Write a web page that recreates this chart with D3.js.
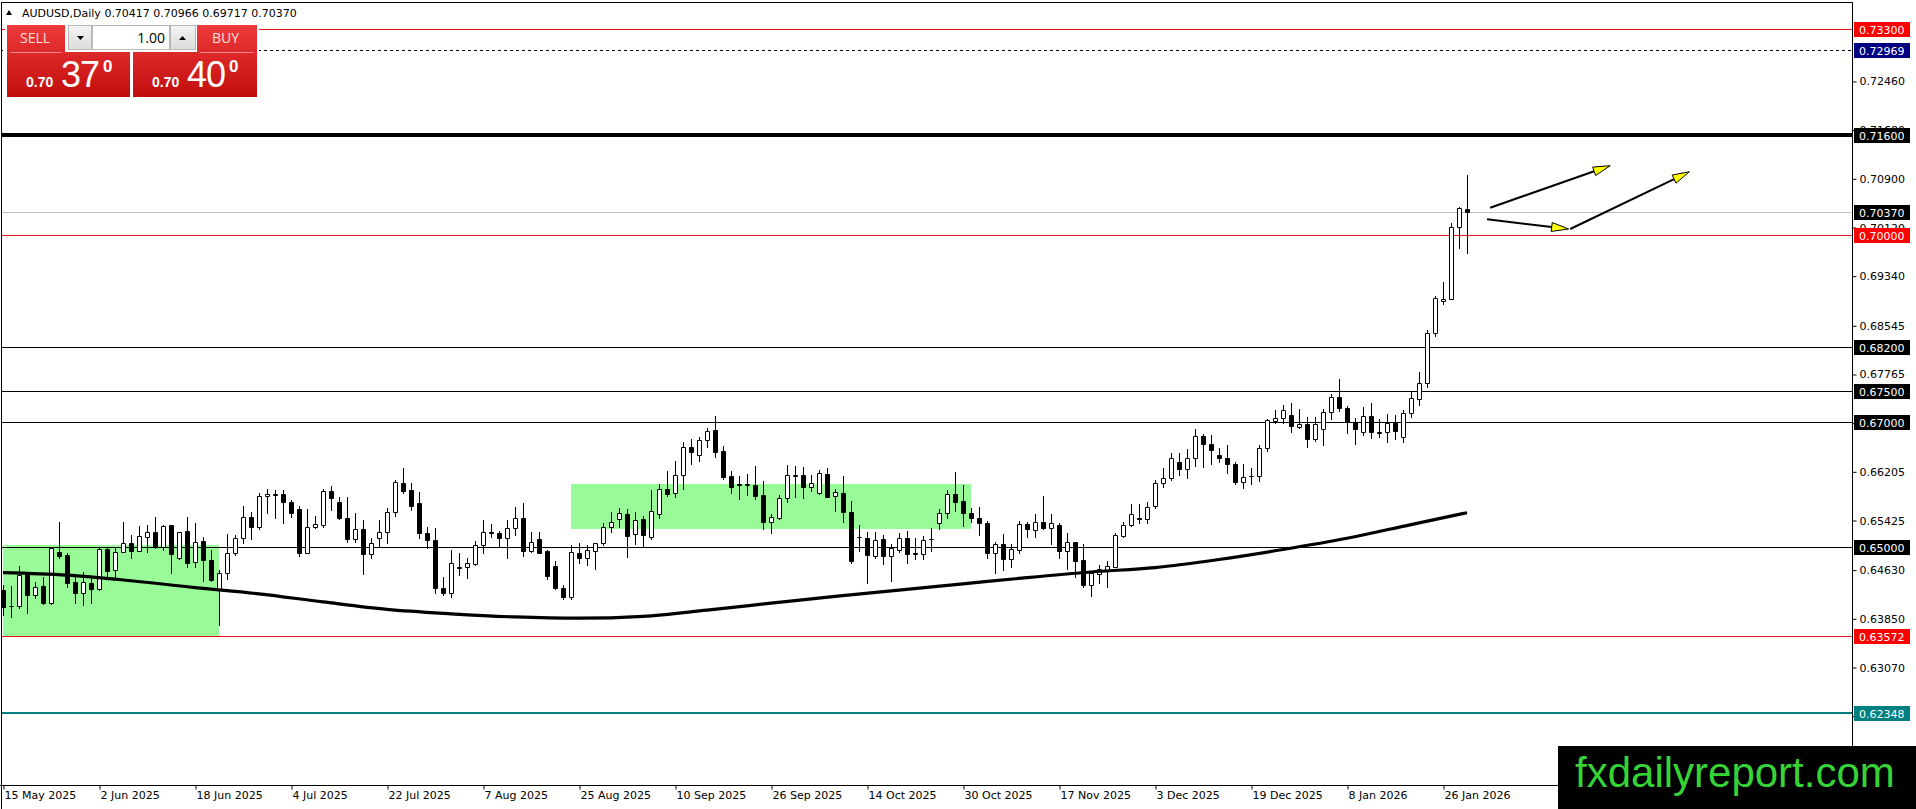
<!DOCTYPE html>
<html>
<head>
<meta charset="utf-8">
<script src="https://d3js.org/d3.v7.min.js"></script>
<style>
body { margin: 0; background: #fff; overflow: hidden; }
svg { display: block; font-family: "DejaVu Sans", sans-serif; }
</style>
</head>
<body>
<svg id="chart" width="1916" height="809"></svg>
<script>
// daily bars, one per trading day from 15 May 2025 (bar 0) to 29 Jan 2026 (bar 183)
var opens = [0.64311,0.64055,0.64055,0.64578,0.64231,0.64375,0.64108,0.64925,0.64872,0.64445,0.64258,0.64429,0.64322,0.64963,0.64632,0.64925,0.65059,0.64941,0.65166,0.65235,
0.65006,0.65353,0.64819,0.65257,0.64765,0.65096,0.64792,0.64311,0.64589,0.64899,0.65139,0.65486,0.65315,0.65817,0.65844,0.65844,0.65727,0.65604,0.64909,0.65315,
0.65353,0.65897,0.65721,0.65459,0.65134,0.65283,0.64883,0.65139,0.65246,0.65556,0.66020,0.65913,0.65700,0.65219,0.65112,0.64338,0.64258,0.64685,0.64674,0.64722,
0.65032,0.65246,0.65219,0.65139,0.65299,0.65459,0.64941,0.65123,0.64936,0.64701,0.64338,0.64204,0.64899,0.64819,0.64941,0.65059,0.65326,0.65444,0.65529,0.65203,
0.65444,0.65166,0.65529,0.65924,0.65860,0.66149,0.66597,0.66469,0.66715,0.66875,0.66539,0.66138,0.66004,0.65988,0.65994,0.65833,0.65401,0.65460,0.65780,0.66143,
0.66154,0.65967,0.65860,0.66165,0.65817,0.65860,0.65556,0.65166,0.65139,0.64861,0.65123,0.64856,0.64952,0.65139,0.64899,0.64888,0.65123,0.65380,0.65550,0.65849,
0.65737,0.65540,0.65460,0.65390,0.64899,0.65048,0.64803,0.64952,0.65369,0.65273,0.65406,0.65299,0.65353,0.64941,0.65075,0.64792,0.64391,0.64568,0.64632,0.64685,
0.65176,0.65353,0.65460,0.65444,0.65660,0.66020,0.66100,0.66367,0.66245,0.66421,0.66779,0.66650,0.66474,0.66421,0.66330,0.66047,0.66133,0.66143,0.66581,0.67024,
0.67062,0.67115,0.66928,0.66971,0.66725,0.66885,0.67158,0.67398,0.67222,0.66998,0.66848,0.67105,0.66843,0.66837,0.66981,0.66757,0.67142,0.67372,0.67622,0.68424,
0.68945,0.68971,0.70133,0.70417];
var highs = [0.64391,0.64375,0.64696,0.64605,0.64445,0.64525,0.65006,0.65406,0.64899,0.64525,0.64605,0.64535,0.64990,0.64979,0.64979,0.65395,0.65192,0.65342,0.65353,0.65486,
0.65350,0.65360,0.65246,0.65486,0.65390,0.65166,0.64952,0.64632,0.65208,0.65192,0.65657,0.65566,0.65860,0.65929,0.65913,0.65913,0.65753,0.65657,0.65604,0.65497,
0.65929,0.65978,0.65807,0.65796,0.65550,0.65433,0.65139,0.65433,0.65620,0.66074,0.66261,0.66020,0.65887,0.65326,0.65299,0.64525,0.64952,0.64909,0.64819,0.65102,
0.65433,0.65363,0.65257,0.65433,0.65646,0.65700,0.65235,0.65246,0.64952,0.64781,0.64391,0.65032,0.65059,0.65032,0.65070,0.65390,0.65566,0.65620,0.65604,0.65556,
0.65502,0.65914,0.66004,0.66218,0.66378,0.66677,0.66725,0.66768,0.66912,0.67099,0.66619,0.66218,0.66138,0.66170,0.66298,0.66063,0.65529,0.65833,0.66309,0.66298,
0.66277,0.66154,0.66234,0.66271,0.65924,0.66138,0.65743,0.65353,0.65246,0.65246,0.65193,0.65048,0.65230,0.65262,0.65139,0.65176,0.65299,0.65604,0.65914,0.66197,
0.65994,0.65620,0.65636,0.65422,0.65086,0.65203,0.65048,0.65417,0.65406,0.65529,0.65817,0.65529,0.65390,0.65230,0.65086,0.65048,0.64621,0.64712,0.64776,0.65230,
0.65406,0.65684,0.65689,0.65727,0.66074,0.66261,0.66501,0.66501,0.66565,0.66891,0.66811,0.66790,0.66581,0.66634,0.66367,0.66330,0.66261,0.66634,0.67051,0.67195,
0.67270,0.67302,0.67211,0.67088,0.67088,0.67211,0.67452,0.67692,0.67265,0.67062,0.67238,0.67302,0.67051,0.67126,0.67115,0.67195,0.67489,0.67809,0.68477,0.69022,
0.69239,0.70186,0.70443,0.70966];
var lows = [0.63911,0.63884,0.64020,0.63937,0.64178,0.64087,0.64090,0.64819,0.64365,0.64108,0.64071,0.64108,0.64310,0.64525,0.64525,0.64915,0.64819,0.64930,0.64915,0.64979,
0.64960,0.64578,0.64810,0.64685,0.64685,0.64461,0.64461,0.63750,0.64482,0.64872,0.65059,0.65123,0.65283,0.65550,0.65459,0.65390,0.65486,0.64861,0.64899,0.65300,
0.65315,0.65593,0.65443,0.65086,0.65086,0.64562,0.64829,0.65006,0.65059,0.65497,0.65860,0.65593,0.65139,0.64979,0.64258,0.64231,0.64204,0.64552,0.64509,0.64712,
0.64899,0.65166,0.65016,0.64829,0.65192,0.64861,0.64915,0.64900,0.64488,0.64330,0.64162,0.64162,0.64738,0.64712,0.64642,0.65032,0.65246,0.65326,0.64845,0.65048,
0.65022,0.65123,0.65470,0.65823,0.65807,0.65924,0.66325,0.66384,0.66608,0.66437,0.66095,0.65871,0.65764,0.65833,0.65764,0.65283,0.65219,0.65450,0.65727,0.65807,
0.65791,0.65903,0.65844,0.65796,0.65582,0.65406,0.64739,0.64941,0.64418,0.64819,0.64728,0.64461,0.64926,0.64749,0.64803,0.64803,0.64941,0.65289,0.65460,0.65582,
0.65342,0.65406,0.65193,0.64819,0.64589,0.64632,0.64685,0.64909,0.65166,0.65166,0.65283,0.65048,0.64819,0.64642,0.64525,0.64365,0.64215,0.64429,0.64365,0.64674,
0.65155,0.65342,0.65390,0.65390,0.65620,0.65967,0.66074,0.66154,0.66111,0.66298,0.66288,0.66330,0.66367,0.66191,0.66010,0.65940,0.66010,0.66063,0.66544,0.66982,
0.66982,0.66848,0.66901,0.66608,0.66699,0.66634,0.67051,0.67185,0.66832,0.66650,0.66795,0.66752,0.66757,0.66688,0.66725,0.66688,0.67089,0.67276,0.67558,0.68381,
0.68891,0.69038,0.69796,0.69717];
var closes = [0.64044,0.64050,0.64552,0.64231,0.64365,0.64108,0.64979,0.64861,0.64429,0.64268,0.64445,0.64322,0.64963,0.64621,0.64925,0.65059,0.64941,0.65176,0.65235,0.64995,
0.65342,0.64883,0.65235,0.64749,0.65086,0.64792,0.64471,0.64589,0.64899,0.65139,0.65476,0.65315,0.65817,0.65844,0.65828,0.65727,0.65540,0.64909,0.65315,0.65369,
0.65897,0.65780,0.65459,0.65134,0.65283,0.64883,0.65070,0.65246,0.65556,0.66036,0.65897,0.65662,0.65219,0.65112,0.64338,0.64258,0.64738,0.64669,0.64738,0.65032,
0.65246,0.65230,0.65139,0.65299,0.65459,0.64941,0.65075,0.64909,0.64541,0.64338,0.64204,0.64915,0.64819,0.64952,0.65059,0.65326,0.65406,0.65540,0.65176,0.65433,
0.65187,0.65582,0.65924,0.65849,0.66154,0.66597,0.66528,0.66715,0.66864,0.66528,0.66127,0.65956,0.65988,0.66004,0.65823,0.65406,0.65476,0.65780,0.66149,0.66154,
0.65967,0.66031,0.66181,0.65807,0.65876,0.65566,0.64776,0.65155,0.64872,0.65112,0.64856,0.64979,0.65139,0.64888,0.64888,0.65112,0.65133,0.65550,0.65849,0.65727,
0.65540,0.65460,0.65380,0.64899,0.65048,0.64803,0.64963,0.65369,0.65283,0.65406,0.65299,0.65390,0.64941,0.65086,0.64781,0.64391,0.64578,0.64642,0.64696,0.65193,
0.65353,0.65529,0.65444,0.65647,0.66031,0.66100,0.66421,0.66245,0.66421,0.66779,0.66645,0.66554,0.66421,0.66325,0.66047,0.66127,0.66143,0.66581,0.67035,0.67062,
0.67195,0.66944,0.66966,0.66736,0.66966,0.67158,0.67398,0.67222,0.66998,0.66885,0.67105,0.66837,0.66832,0.66992,0.66859,0.67142,0.67382,0.67622,0.68424,0.68985,
0.68982,0.70133,0.70427,0.70370];

// moving average at sample bars
var maBars   = [0, 8, 16, 24, 32, 40, 48, 56, 64, 72, 80, 88, 96, 104, 112, 120, 128, 136, 144, 152, 160, 168, 176, 183];
var maValues = [0.6459,0.6455,0.6446,0.6435,0.6425,0.6412,0.6400,0.6393,0.6388,0.6386,0.6389,0.6399,0.6410,0.6421,0.6431,0.6441,0.6451,0.6460,0.6467,0.6480,0.6496,0.6514,0.6536,0.6555];

var dateLabels = ["15 May 2025","2 Jun 2025","18 Jun 2025","4 Jul 2025","22 Jul 2025","7 Aug 2025","25 Aug 2025","10 Sep 2025",
  "26 Sep 2025","14 Oct 2025","30 Oct 2025","17 Nov 2025","3 Dec 2025","19 Dec 2025","8 Jan 2026","26 Jan 2026"];
var dateBars = [0,12,24,36,48,60,72,84,96,108,120,132,144,156,168,180];

var priceTicks = [0.72460,0.71680,0.70900,0.70120,0.69340,0.68545,0.67765,0.66985,0.66205,0.65425,0.64630,0.63850,0.63070,0.62290];

// horizontal levels and their kind
var levelPrices = [0.73300,0.72969,0.71600,0.70370,0.70000,0.68200,0.67500,0.67000,0.65000,0.63572,0.62348];
var levelKinds  = ["red","dash","thick","bid","red","plain","plain","plain","plain","red","teal"];

// green zones (bar from, bar to, top, bottom)
var zoneFrom   = [0, 71];
var zoneTo     = [27, 121];
var zoneTop    = [0.65030, 0.66004];
var zoneBottom = [0.63572, 0.65289];

// drawn arrows (bar, price)
var arrowFromBar = [185.9, 185.5, 195.9];
var arrowFromPrice = [0.70437, 0.70251, 0.70096];
var arrowToBar = [200.9, 195.7, 210.8];
var arrowToPrice = [0.71110, 0.70096, 0.71013];

var symbol = "AUDUSD,Daily";
var lotSize = "1.00";
var sellPrice = ["0.70", "37", "0"];
var buyPrice = ["0.70", "40", "0"];

var styles = {
  red:   {stroke: "#e8141a", width: 1, box: "#ff0000"},
  dash:  {stroke: "#000000", width: 1, box: "#000080", dash: "3,3"},
  thick: {stroke: "#000000", width: 4, box: "#000000"},
  bid:   {stroke: "#c0c0c0", width: 1, box: "#000000"},
  plain: {stroke: "#000000", width: 1, box: "#000000"},
  teal:  {stroke: "#008080", width: 2, box: "#008080"}
};

var W = 1916, H = 809;
var plotRight = 1852, plotBottom = 785, plotTop = 2;
var svg = d3.select("#chart");

var xs = d3.scaleLinear().domain([0, 100]).range([3, 803]);
var ys = d3.scaleLinear().domain([0.61187, 0.73733]).range([plotBottom, plotTop]);
function cy(p) { return Math.round(ys(p)) + 0.5; }

svg.append("rect").attr("width", W).attr("height", H).attr("fill", "#fff");

var plot = svg.append("g");
plot.append("clipPath").attr("id", "clip").append("rect")
  .attr("x", 2).attr("y", plotTop).attr("width", plotRight - 2).attr("height", plotBottom - plotTop);
var inner = plot.append("g").attr("clip-path", "url(#clip)");

// zones
inner.selectAll("rect.zone").data(zoneFrom).enter().append("rect")
  .attr("class", "zone")
  .attr("x", function(d) { return Math.round(xs(d)); })
  .attr("width", function(d, i) { return Math.round(xs(zoneTo[i])) - Math.round(xs(d)); })
  .attr("y", function(d, i) { return Math.round(ys(zoneTop[i])); })
  .attr("height", function(d, i) { return Math.round(ys(zoneBottom[i])) - Math.round(ys(zoneTop[i])); })
  .attr("fill", "#98fb98");

// levels
inner.selectAll("line.level").data(levelPrices).enter().append("line")
  .attr("class", "level")
  .attr("x1", 0).attr("x2", plotRight)
  .attr("y1", function(d, i) { var s = styles[levelKinds[i]]; return s.width % 2 ? cy(d) : Math.round(ys(d)); })
  .attr("y2", function(d, i) { var s = styles[levelKinds[i]]; return s.width % 2 ? cy(d) : Math.round(ys(d)); })
  .attr("stroke", function(d, i) { return styles[levelKinds[i]].stroke; })
  .attr("stroke-width", function(d, i) { return styles[levelKinds[i]].width; })
  .attr("stroke-dasharray", function(d, i) { return styles[levelKinds[i]].dash || null; })
  .attr("shape-rendering", "crispEdges");

// candles
var idx = d3.range(opens.length);
var candles = inner.selectAll("g.candle").data(idx).enter().append("g").attr("class", "candle");
candles.append("line")
  .attr("x1", function(i) { return Math.round(xs(i)) + 0.5; })
  .attr("x2", function(i) { return Math.round(xs(i)) + 0.5; })
  .attr("y1", function(i) { return Math.round(ys(highs[i])); })
  .attr("y2", function(i) { return Math.round(ys(lows[i])) + 1; })
  .attr("stroke", "#000").attr("stroke-width", 1);
candles.append("path")
  .attr("d", function(i) {
    var x0 = Math.round(xs(i)) - 2 + 0.5, x1 = x0 + 4;
    var y0 = cy(Math.max(opens[i], closes[i])), y1 = cy(Math.min(opens[i], closes[i]));
    return "M" + x0 + "," + y0 + "H" + x1 + "V" + y1 + "H" + x0 + "Z";
  })
  .attr("fill", function(i) { return closes[i] >= opens[i] ? "#fff" : "#000"; })
  .attr("stroke", "#000").attr("stroke-width", 1);

// moving average
inner.append("path")
  .datum(maBars)
  .attr("d", d3.line().curve(d3.curveMonotoneX)
    .x(function(d) { return xs(d); })
    .y(function(d, i) { return ys(maValues[i]); }))
  .attr("fill", "none").attr("stroke", "#000").attr("stroke-width", 3.2);

// arrows
var arrows = inner.selectAll("g.arrow").data(arrowFromBar).enter().append("g").attr("class", "arrow");
arrows.each(function(d, i) {
  var g = d3.select(this);
  var x1 = xs(d), y1 = ys(arrowFromPrice[i]), x2 = xs(arrowToBar[i]), y2 = ys(arrowToPrice[i]);
  var a = Math.atan2(y2 - y1, x2 - x1), len = 17, hw = 4.5;
  var bx = x2 - len * Math.cos(a), by = y2 - len * Math.sin(a);
  g.append("line").attr("x1", x1).attr("y1", y1).attr("x2", bx).attr("y2", by)
    .attr("stroke", "#000").attr("stroke-width", 2);
  var pts = [[x2, y2], [bx - hw * Math.sin(a), by + hw * Math.cos(a)], [bx + hw * Math.sin(a), by - hw * Math.cos(a)]];
  g.append("path").attr("d", "M" + pts.join("L") + "Z")
    .attr("fill", "#ffff00").attr("stroke", "#000").attr("stroke-width", 1);
});

// frame
svg.append("path")
  .attr("d", "M1.5," + H + "V" + (plotTop + 0.5) + "H" + (plotRight + 0.5) + "V" + H)
  .attr("fill", "none").attr("stroke", "#000").attr("stroke-width", 1).attr("shape-rendering", "crispEdges");
svg.append("line").attr("x1", 0).attr("x2", plotRight).attr("y1", plotBottom + 0.5).attr("y2", plotBottom + 0.5)
  .attr("stroke", "#000").attr("shape-rendering", "crispEdges");

// price axis
var yAxis = svg.append("g").attr("transform", "translate(" + (plotRight + 0.5) + ",0)")
  .call(d3.axisRight(ys).tickValues(priceTicks).tickFormat(d3.format(".5f")).tickSize(4).tickPadding(3));
yAxis.select(".domain").remove();
yAxis.selectAll("text").attr("font-family", "DejaVu Sans").attr("font-size", 11).attr("fill", "#000");
yAxis.selectAll("line").attr("stroke", "#000");

// level labels
var labels = svg.selectAll("g.lvl").data(levelPrices).enter().append("g").attr("class", "lvl")
  .attr("transform", function(d) { return "translate(" + (plotRight + 2) + "," + Math.round(ys(d)) + ")"; });
labels.append("rect").attr("x", 0).attr("y", -7).attr("width", 56).attr("height", 15)
  .attr("fill", function(d, i) { return styles[levelKinds[i]].box; });
labels.append("text").attr("x", 5).attr("y", 4.5)
  .attr("font-family", "DejaVu Sans").attr("font-size", 11).attr("fill", "#fff")
  .text(function(d) { return d3.format(".5f")(d); });

// time axis
var xAxis = svg.append("g").attr("transform", "translate(0," + (plotBottom + 0.5) + ")")
  .call(d3.axisBottom(xs).tickValues(dateBars).tickSize(4)
    .tickFormat(function(d, i) { return dateLabels[i]; }));
xAxis.select(".domain").remove();
xAxis.selectAll("line").attr("stroke", "#000").attr("transform", "translate(0.5,0)");
xAxis.selectAll("text").attr("text-anchor", "start").attr("x", 1).attr("y", 6).attr("dy", "0.71em")
  .attr("font-family", "DejaVu Sans").attr("font-size", 11).attr("fill", "#000");

// header
var last = opens.length - 1;
svg.append("path").attr("d", "M6,15L12,15L9,10Z").attr("fill", "#000");
svg.append("text").attr("x", 22).attr("y", 17).attr("font-size", 11).attr("fill", "#000")
  .attr("xml:space", "preserve")
  .text(symbol + " " + [opens[last], highs[last], lows[last], closes[last]].map(d3.format(".5f")).join(" "));

// one click trading panel
var defs = svg.append("defs");
var grad = defs.append("linearGradient").attr("id", "redg").attr("x1", 0).attr("y1", 0).attr("x2", 0).attr("y2", 1);
grad.append("stop").attr("offset", "0%").attr("stop-color", "#ee3a3a");
grad.append("stop").attr("offset", "100%").attr("stop-color", "#c20d0d");
var grad2 = defs.append("linearGradient").attr("id", "greyg").attr("x1", 0).attr("y1", 0).attr("x2", 0).attr("y2", 1);
grad2.append("stop").attr("offset", "0%").attr("stop-color", "#f4f4f4");
grad2.append("stop").attr("offset", "100%").attr("stop-color", "#dcdcdc");

var panel = svg.append("g");
panel.append("rect").attr("x", 5).attr("y", 23).attr("width", 254).attr("height", 76).attr("fill", "#fff");
panel.append("path").attr("d", "M7,25H65V52H130V97H7Z").attr("fill", "url(#redg)");
panel.append("path").attr("d", "M197,25H257V97H133V52H197Z").attr("fill", "url(#redg)");
panel.append("line").attr("x1", 10).attr("x2", 62).attr("y1", 52.5).attr("y2", 52.5).attr("stroke", "#f08a8a");
panel.append("line").attr("x1", 200).attr("x2", 254).attr("y1", 52.5).attr("y2", 52.5).attr("stroke", "#f08a8a");
panel.append("rect").attr("x", 68.5).attr("y", 25.5).attr("width", 23).attr("height", 24).attr("fill", "url(#greyg)").attr("stroke", "#b8b8b8");
panel.append("rect").attr("x", 92.5).attr("y", 25.5).attr("width", 77).attr("height", 24).attr("fill", "#fff").attr("stroke", "#b8b8b8");
panel.append("rect").attr("x", 170.5).attr("y", 25.5).attr("width", 25).attr("height", 24).attr("fill", "url(#greyg)").attr("stroke", "#b8b8b8");
panel.append("path").attr("d", "M77,36H84L80.5,40Z").attr("fill", "#000");
panel.append("path").attr("d", "M179,40H186L182.5,36Z").attr("fill", "#000");
panel.append("text").attr("x", 165).attr("y", 43).attr("text-anchor", "end")
  .attr("font-family", "Open Sans").attr("font-size", 14).attr("fill", "#000").text(lotSize);
panel.append("text").attr("x", 20).attr("y", 43).attr("font-family", "Open Sans").attr("font-size", 14)
  .attr("fill", "#ffe0e0").text("SELL");
panel.append("text").attr("x", 212).attr("y", 43).attr("font-family", "Open Sans").attr("font-size", 14)
  .attr("fill", "#ffe0e0").text("BUY");

function quote(x0, parts) {
  var g = panel.append("g").attr("fill", "#fff").attr("font-family", "Liberation Sans");
  g.append("text").attr("x", x0).attr("y", 87).attr("font-size", 14).attr("font-weight", "bold").text(parts[0]);
  g.append("text").attr("x", x0 + 35).attr("y", 87).attr("font-size", 36).attr("letter-spacing", -1).text(parts[1]);
  g.append("text").attr("x", x0 + 77).attr("y", 72).attr("font-size", 17).attr("font-weight", "bold").text(parts[2]);
}
quote(26, sellPrice);
quote(152, buyPrice);

// watermark
svg.append("rect").attr("x", 1558).attr("y", 746).attr("width", W - 1558).attr("height", H - 746).attr("fill", "#000");
svg.append("text").attr("x", 1575).attr("y", 787).attr("font-family", "Liberation Sans").attr("font-size", 42)
  .attr("fill", "#36d336").text("fxdailyreport.com");
</script>
</body>
</html>
